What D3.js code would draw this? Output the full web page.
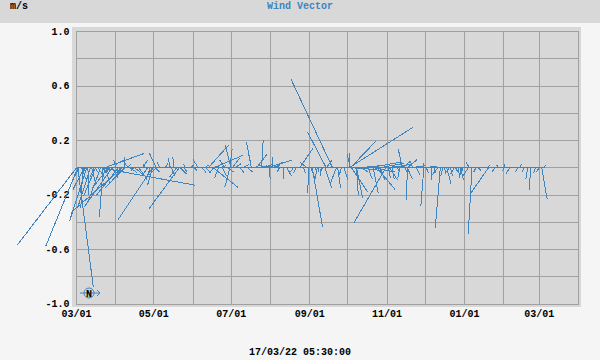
<!DOCTYPE html>
<html>
<head>
<meta charset="utf-8">
<script src="https://cdnjs.cloudflare.com/ajax/libs/d3/7.8.5/d3.min.js"></script>
<style>
    html, body { margin: 0; padding: 0; background: #f5f5f5; }
    svg { display: block; }
    text { font-family: "Liberation Mono", monospace; font-size: 10px; font-weight: bold; fill: #000; }
</style>
</head>
<body>
<div id="chart"></div>
<script>
// days since first sample, east and north components in m/s
const stickDays = [0,1,1,8,36,60,81,19,21,22,6,11,15,19,28,33,25,38,5,9,12,17,23,28,31,38,42,36,41,46,52,56,63,63,60,58,66,74,77,79,75,82,90,96,99,
    108,104,108,121,108,121,122,123,112,115,117,129,138,146,142,152,155,150,163,166,158,173,182,176,202,197,186,183,216,215,216,215,206,197,196,205,185,190,193,211,
    221,221,217,234,237,247,244,246,257,231,239,249,255,261,274,261,261,257,268,274,275,280,287,292,301,304,312,325,310,285,290,295,298,303,309,358,356,367,362,337,342,348,369,
    2,4,7,14,15,21,26,30,34,40,45,49,54,62,70,85,86,93,101,102,
    110,113,119,125,131,135,140,143,148,154,160,171,179,188,191,194,209,
    217,219,222,225,228,230,235,240,243,250,253,259,263,265,
    276,282,289,294,299,305,315,317,324,330,333,338,350,353,365];
const stickU = [-.432,-.234,.114,-.125,-.376,-.252,-.225,.696,-.027,.288,-.081,-.088,-.088,-.088,-.205,-.161,-.117,-.147,-.015,.007,.029,.051,.029,.044,-.015,0,.051,-.044,-.044,.073,.037,-.037,-.051,-.051,-.037,-.029,-.022,-.015,-.01,-.051,.022,.044,.022,-.039,.029,
    .179,.147,.218,-.037,-.029,.017,-.044,.051,-.029,.029,-.037,.029,-.037,.012,.081,.007,0,.183,.007,.034,.037,-.015,-.051,.097,-.304,-.137,.075,-.005,.188,.469,-.024,0,.022,.042,.049,-.044,.029,-.022,-.007,.029,
    .012,.044,.117,.037,.132,.059,-.234,.015,-.029,.232,.183,.015,-.015,-.007,-.022,.071,.037,.059,.029,-.005,.088,-.002,-.037,.034,.015,-.022,-.028,-.132,-.024,-.044,.015,.015,-.029,.022,-.037,-.005,-.015,.039,-.012,-.007,-.029,-.015,.007,
    -.03,.03,-.015,-.03,.015,.02,-.02,.015,.02,.03,-.02,.03,-.015,.03,.02,.02,-.015,.02,.03,.03,
    .045,.045,.045,.045,.05,.035,.06,.07,.06,.045,-.015,-.02,.015,.015,0,-.007,-.015,
    .147,.16,.176,.044,.13,.03,.147,.03,.147,.125,.02,.015,.11,-.015,
    .015,.015,-.015,-.03,.02,-.02,-.015,.02,.02,-.02,-.015,-.007,.007,-.015,-.02];
const stickV = [-.564,-.573,-.875,-.39,-.33,-.379,-.306,-.128,-.36,.104,-.158,-.275,-.209,-.238,-.289,-.201,-.15,-.15,-.297,-.201,-.114,-.077,-.114,-.07,.055,.077,-.033,-.055,.055,-.059,.055,-.055,.106,-.051,-.128,-.088,.04,.07,.079,-.066,-.059,-.044,.019,.062,-.033,
    -.143,.165,.092,-.141,-.04,.141,.165,.07,-.077,-.059,.055,-.037,.189,.207,.104,-.081,.077,.055,-.086,-.062,.04,-.037,.04,.141,.648,.262,-.434,-.185,.196,.297,.099,.106,-.15,.055,-.145,-.114,-.077,-.106,-.062,-.092,
    -.201,-.223,-.177,-.187,-.158,-.092,-.404,-.077,.136,.042,.033,-.084,-.077,-.238,-.282,.06,-.084,.048,-.055,.035,.013,-.092,-.441,-.123,-.077,-.07,-.489,-.189,.038,-.055,-.04,-.059,-.048,-.092,-.059,-.16,-.086,-.226,-.04,-.026,-.04,-.033,.02,
    -.06,-.08,-.03,-.07,-.03,-.04,-.03,.03,-.03,.03,-.02,-.04,.03,-.03,.03,-.03,.03,-.02,.02,-.03,
    .03,.015,-.03,.03,.025,-.03,.025,.015,.025,.015,-.03,-.03,-.04,-.03,-.03,-.025,-.05,
    -.01,.01,-.02,-.03,.02,-.08,-.03,-.09,.015,.025,-.03,-.03,.015,.05,
    -.04,-.04,-.06,-.04,-.035,-.05,-.03,-.02,.02,-.03,.02,.025,.025,-.03,-.03];

const startDate = new Date(2016, 2, 1);
const endDate = new Date(2017, 3, 1);
const yTicks = [-1, -0.8, -0.6, -0.4, -0.2, 0, 0.2, 0.4, 0.6, 0.8, 1];
const yLabels = [-1, -0.6, -0.2, 0.2, 0.6, 1];
const titleText = "Wind Vector";
const unitText = "m/s";
const stampText = "17/03/22 05:30:00";

const lineColor = "#3d85c0";
const gridColor = "#a0a0a0";
const panelColor = "#d8d8d8";

const margin = {top: 31.5, right: 21.5, bottom: 55.9, left: 76.5};
const width = 600 - margin.left - margin.right;
const height = 360 - margin.top - margin.bottom;

const svg = d3.select("#chart").append("svg")
    .attr("width", 600)
    .attr("height", 360);

// header band and plot panel
svg.append("rect").attr("width", 600).attr("height", 23).attr("fill", panelColor);
svg.append("rect").attr("x", 72).attr("y", 27).attr("width", 509).attr("height", 280).attr("fill", panelColor);

svg.append("text").attr("x", 10).attr("y", 9).text(unitText);
svg.append("text").attr("x", 300).attr("y", 9).attr("text-anchor", "middle")
    .style("fill", lineColor).text(titleText);
svg.append("text").attr("x", 300).attr("y", 355).attr("text-anchor", "middle").text(stampText);

const g = svg.append("g").attr("transform", `translate(${margin.left},${margin.top})`);

const x = d3.scaleTime().domain([startDate, endDate]).range([0, width]);
const y = d3.scaleLinear().domain([-1, 1]).range([height, 0]);
// vectors use the same px per m/s as the y axis
const uScale = d3.scaleLinear().domain([0, 1]).range([0, height / 2]);

const xAxis = d3.axisBottom(x)
    .ticks(d3.timeMonth.every(1))
    .offset(0)
    .tickSize(-height)
    .tickPadding(6)
    .tickFormat((d, i) => i % 2 === 0 ? d3.timeFormat("%m/%d")(d) : "");

const yAxis = d3.axisLeft(y)
    .tickValues(yTicks)
    .offset(0)
    .tickSize(-width)
    .tickPadding(7)
    .tickFormat(d => yLabels.includes(d) ? d3.format(".1f")(d).replace("\u2212", "-") : "");

const gx = g.append("g").attr("transform", `translate(0,${height})`).call(xAxis);
const gy = g.append("g").call(yAxis);

[gx, gy].forEach(a => {
    a.select(".domain").attr("stroke", gridColor).attr("shape-rendering", "crispEdges");
    a.selectAll(".tick line").attr("stroke", gridColor).attr("shape-rendering", "crispEdges");
    a.selectAll("text").style("font-family", null).style("font-size", "10px");
});
g.append("rect").attr("width", width).attr("height", height)
    .attr("fill", "none").attr("stroke", gridColor).attr("shape-rendering", "crispEdges");

const baseX = day => x(d3.timeDay.offset(startDate, day));

// baseline runs from the first sample to the last
g.append("line")
    .attr("x1", baseX(d3.min(stickDays)))
    .attr("x2", baseX(d3.max(stickDays)))
    .attr("y1", y(0))
    .attr("y2", y(0))
    .attr("stroke", lineColor)
    .attr("shape-rendering", "crispEdges");

g.append("g").selectAll("line")
    .data(stickDays)
    .join("line")
    .attr("x1", d => baseX(d))
    .attr("y1", y(0))
    .attr("x2", (d, i) => baseX(d) + uScale(stickU[i]))
    .attr("y2", (d, i) => y(stickV[i]))
    .attr("stroke", lineColor)
    .attr("shape-rendering", "crispEdges");

// north marker
const compass = svg.append("g").attr("transform", "translate(89,293)");
compass.append("circle").attr("r", 5).attr("fill", "none").attr("stroke", lineColor);
compass.append("path").attr("d", "M-9,0H11M8,-3L11,0L8,3").attr("fill", "none").attr("stroke", lineColor);
compass.append("text").attr("text-anchor", "middle").attr("y", 3.5).text("N");
</script>
</body>
</html>
